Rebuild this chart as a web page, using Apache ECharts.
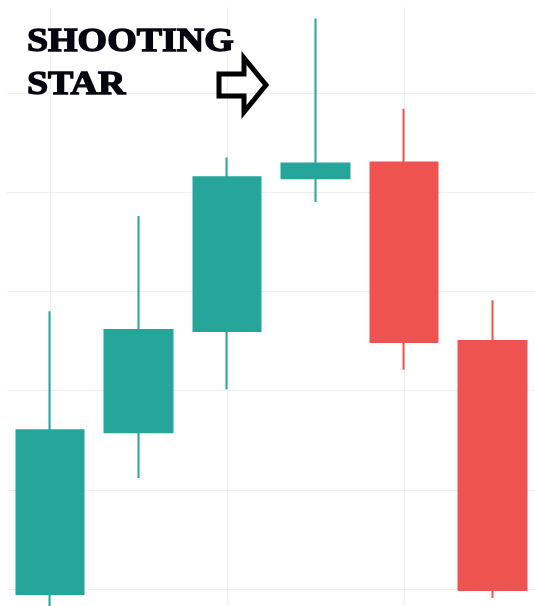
<!DOCTYPE html>
<html>
<head>
<meta charset="utf-8">
<script src="https://cdn.jsdelivr.net/npm/echarts@6/dist/echarts.min.js"></script>
<style>
  html, body { margin: 0; padding: 0; background: #fff; }
  #chart { width: 535px; height: 606px; }
</style>
</head>
<body>
<div id="chart"></div>
<script>
// candle data: [open, close, low, high]
var days = ['1', '2', '3', '4', '5', '6'];
var openValues = [-0.5, 15.8, 26.0, 41.4, 43.0, 25.0];
var closeValues = [16.0, 26.1, 41.5, 42.9, 24.9, -0.1];
var lowValues = [-2.6, 11.2, 20.1, 39.0, 22.1, -0.9];
var highValues = [28.0, 37.6, 43.5, 57.5, 48.4, 29.1];
var titleLines = ['SHOOTING', 'STAR'];

var candles = [];
for (let i = 0; i < days.length; i++) {
    candles.push([openValues[i], closeValues[i], lowValues[i], highValues[i]]);
}

var gridColor = '#efefef';
var chart = echarts.init(document.getElementById('chart'));

var titleStyle = {
    x: 0, y: 0,
    font: 'bold 33px "Liberation Serif", serif',
    fill: '#05050f',
    stroke: '#05050f',
    lineWidth: 1.3,
    verticalAlign: 'middle'
};

var option = {
    animation: false,
    grid: [
        // vertical lines
        {left: 50, right: 42.5, top: 7, bottom: 0},
        // horizontal lines
        {left: 7, right: 0, top: 93, bottom: 17},
        // candles
        {left: 50, right: 42.5, top: 93, bottom: 17}
    ],
    xAxis: [
        {
            gridIndex: 0,
            type: 'category',
            data: days,
            boundaryGap: false,
            axisLine: {show: false},
            axisTick: {show: false},
            axisLabel: {show: false},
            splitLine: {
                show: true,
                interval: function (index) { return index % 2 === 0; },
                lineStyle: {color: gridColor, width: 1}
            }
        },
        {
            gridIndex: 1,
            type: 'value',
            show: false
        },
        {
            gridIndex: 2,
            type: 'category',
            data: days,
            boundaryGap: false,
            axisLine: {show: false},
            axisTick: {show: false},
            axisLabel: {show: false},
            splitLine: {show: false}
        }
    ],
    yAxis: [
        {gridIndex: 0, type: 'value', show: false},
        {
            gridIndex: 1,
            type: 'value',
            min: 0,
            max: 50,
            interval: 10,
            axisLine: {show: false},
            axisTick: {show: false},
            axisLabel: {show: false},
            splitLine: {lineStyle: {color: gridColor, width: 1}}
        },
        {
            gridIndex: 2,
            type: 'value',
            min: 0,
            max: 50,
            interval: 10,
            axisLine: {show: false},
            axisTick: {show: false},
            axisLabel: {show: false},
            splitLine: {show: false}
        }
    ],
    series: [{
        type: 'candlestick',
        xAxisIndex: 2,
        yAxisIndex: 2,
        data: candles,
        barWidth: 68,
        clip: false,
        itemStyle: {
            color: '#26a69a',
            color0: '#ef5350',
            borderColor: '#26a69a',
            borderColor0: '#ef5350',
            borderWidth: 2
        }
    }],
    graphic: [
        {
            type: 'text',
            x: 27,
            y: 42,
            scaleX: 1.15,
            z: 100,
            style: Object.assign({text: titleLines[0]}, titleStyle)
        },
        {
            type: 'text',
            x: 27,
            y: 85,
            scaleX: 1.15,
            z: 100,
            style: Object.assign({text: titleLines[1]}, titleStyle)
        },
        {
            type: 'polygon',
            z: 100,
            shape: {
                points: [[219, 74], [244, 74], [244, 58], [266, 85], [244, 112], [244, 96], [219, 96]]
            },
            style: {fill: 'none', stroke: '#000', lineWidth: 5, lineJoin: 'miter'}
        }
    ]
};

chart.setOption(option);
</script>
</body>
</html>
